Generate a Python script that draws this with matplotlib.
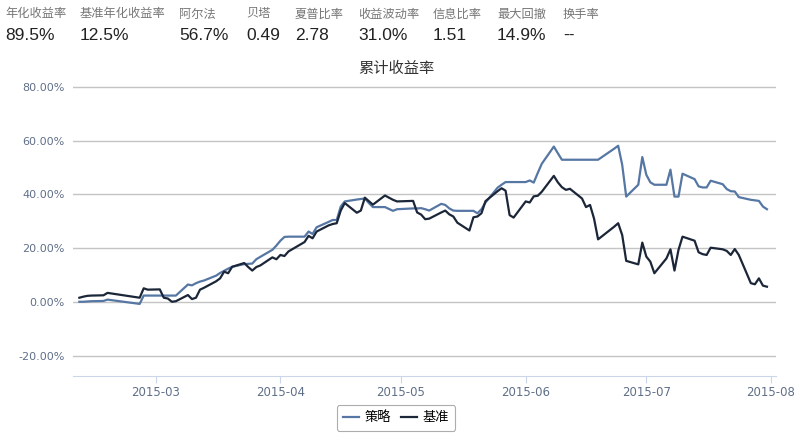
import numpy as np
import pandas as pd
import matplotlib
matplotlib.use("Agg")
import matplotlib.pyplot as plt
import matplotlib.dates as mdates

plt.rcParams['font.family'] = ['Noto Sans CJK SC', 'DejaVu Sans']

# header stats
stat_labels = ["年化收益率", "基准年化收益率", "阿尔法", "贝塔", "夏普比率",
               "收益波动率", "信息比率", "最大回撤", "换手率"]
stat_values = ["89.5%", "12.5%", "56.7%", "0.49", "2.78", "31.0%", "1.51", "14.9%", "--"]
stat_x = [5, 80, 179, 246, 295, 358, 433, 497, 563]

# trading days and cumulative returns (%)
dates = [
    "2015-02-10", "2015-02-11", "2015-02-12", "2015-02-13", "2015-02-16", "2015-02-17",
    "2015-02-25", "2015-02-26", "2015-02-27",
    "2015-03-02", "2015-03-03", "2015-03-04", "2015-03-05", "2015-03-06",
    "2015-03-09", "2015-03-10", "2015-03-11", "2015-03-12", "2015-03-13",
    "2015-03-16", "2015-03-17", "2015-03-18", "2015-03-19", "2015-03-20",
    "2015-03-23", "2015-03-24", "2015-03-25", "2015-03-26", "2015-03-27",
    "2015-03-30", "2015-03-31",
    "2015-04-01", "2015-04-02", "2015-04-03",
    "2015-04-07", "2015-04-08", "2015-04-09", "2015-04-10",
    "2015-04-13", "2015-04-14", "2015-04-15", "2015-04-16", "2015-04-17",
    "2015-04-20", "2015-04-21", "2015-04-22", "2015-04-23", "2015-04-24",
    "2015-04-27", "2015-04-28", "2015-04-29", "2015-04-30",
    "2015-05-04", "2015-05-05", "2015-05-06", "2015-05-07", "2015-05-08",
    "2015-05-11", "2015-05-12", "2015-05-13", "2015-05-14", "2015-05-15",
    "2015-05-18", "2015-05-19", "2015-05-20", "2015-05-21", "2015-05-22",
    "2015-05-25", "2015-05-26", "2015-05-27", "2015-05-28", "2015-05-29",
    "2015-06-01", "2015-06-02", "2015-06-03", "2015-06-04", "2015-06-05",
    "2015-06-08", "2015-06-09", "2015-06-10", "2015-06-11", "2015-06-12",
    "2015-06-15", "2015-06-16", "2015-06-17", "2015-06-18", "2015-06-19",
    "2015-06-23", "2015-06-24", "2015-06-25", "2015-06-26",
    "2015-06-29", "2015-06-30",
    "2015-07-01", "2015-07-02", "2015-07-03",
    "2015-07-06", "2015-07-07", "2015-07-08", "2015-07-09", "2015-07-10",
    "2015-07-13", "2015-07-14", "2015-07-15", "2015-07-16", "2015-07-17",
    "2015-07-20", "2015-07-21", "2015-07-22", "2015-07-23", "2015-07-24",
    "2015-07-27", "2015-07-28", "2015-07-29", "2015-07-30", "2015-07-31",
]

strategy = [
    0.1, 0.1, 0.2, 0.3, 0.4, 0.9, -0.7, 2.4, 2.4,
    2.4, 2.4, 2.4, 2.4, 2.4,
    6.5, 6.2, 7.0, 7.6, 8.0,
    9.8, 10.8, 11.6, 12.4, 13.1,
    14.1, 14.2, 14.3, 15.9, 16.8,
    19.4, 21.0,
    22.8, 24.2, 24.3,
    24.3, 26.2, 25.3, 27.8,
    29.8, 30.5, 30.5, 35.5, 37.4,
    38.1, 38.3, 38.5, 36.8, 35.3,
    35.3, 34.6, 33.9, 34.5,
    34.8, 34.8, 34.9, 34.5, 34.0,
    36.5, 36.1, 34.8, 34.0, 33.9,
    33.9, 33.9, 33.0, 34.5, 37.0,
    42.5, 43.6, 44.6, 44.6, 44.6,
    44.6, 45.2, 44.4, 48.0, 51.4,
    57.8, 55.3, 52.9, 52.9, 52.9,
    52.9, 52.9, 52.9, 52.9, 52.9,
    57.0, 58.1, 51.0, 39.2,
    43.6, 53.9,
    47.3, 44.5, 43.6,
    43.6, 49.2, 39.2, 39.2, 47.7,
    45.7, 43.0, 42.6, 42.6, 45.1,
    43.8, 42.0, 41.2, 41.1, 39.0,
    38.0, 37.8, 37.6, 35.5, 34.5,
]

benchmark = [
    1.6, 2.0, 2.3, 2.4, 2.5, 3.4, 1.6, 5.1, 4.6,
    4.7, 1.6, 1.3, 0.1, 0.3,
    2.6, 1.1, 1.6, 4.6, 5.3,
    7.7, 8.8, 11.3, 10.7, 13.1,
    14.5, 13.0, 11.7, 13.0, 13.6,
    16.6, 15.9,
    17.5, 17.1, 18.8,
    22.3, 24.6, 23.7, 26.2,
    28.5, 29.0, 29.3, 34.0, 36.8,
    33.2, 34.0, 38.8, 37.5, 36.2,
    39.6, 38.8, 38.0, 37.4,
    37.6, 33.3, 32.5, 30.8, 31.0,
    33.3, 34.0, 32.6, 31.8, 29.5,
    26.6, 31.5, 31.8, 33.0, 37.5,
    41.2, 42.3, 41.4, 32.3, 31.4,
    37.4, 37.0, 39.3, 39.5, 41.0,
    46.9, 44.5, 42.7, 41.7, 42.1,
    38.5, 35.3, 36.1, 31.0, 23.3,
    28.0, 29.3, 24.9, 15.3,
    14.0, 22.1,
    16.9, 15.0, 10.7,
    16.2, 19.6, 11.7, 19.4, 24.3,
    22.8, 18.5, 17.8, 17.5, 20.2,
    19.6, 19.0, 17.5, 19.7, 17.5,
    7.0, 6.6, 8.8, 6.1, 5.7,
]

x = pd.to_datetime(dates)
W, H = 794, 442
fig = plt.figure(figsize=(W / 100, H / 100), dpi=100)
ax = fig.add_axes([73 / W, 1 - 376 / H, (776 - 73) / W, (376 - 82) / H])

tick_color = "#606f88"
ax.plot(x, strategy, color="#5676a3", lw=1.6, label="策略", zorder=3)
ax.plot(x, benchmark, color="#1b2638", lw=1.6, label="基准", zorder=4)

ax.set_ylim(-27.5, 81.8)
ax.set_xlim(pd.Timestamp("2015-02-08 10:00"), pd.Timestamp("2015-08-02 06:00"))
ax.set_yticks([-20, 0, 20, 40, 60, 80])
ax.set_yticklabels([f"{v:.2f}%" for v in [-20, 0, 20, 40, 60, 80]])
ax.grid(axis="y", color="#c4c4c4", lw=1)
ax.set_axisbelow(True)

ax.xaxis.set_major_locator(mdates.MonthLocator())
ax.xaxis.set_major_formatter(mdates.DateFormatter("%Y-%m"))

for s in ["top", "right", "left"]:
    ax.spines[s].set_visible(False)
ax.spines["bottom"].set_color("#ccd6eb")
ax.spines["bottom"].set_linestyle((0, (1, 1)))
ax.tick_params(axis="y", length=0, pad=6, labelsize=8, labelcolor=tick_color)
ax.tick_params(axis="x", length=5, color="#ccd6eb", pad=2, labelsize=8.5, labelcolor=tick_color)
for lab in ax.get_xticklabels() + ax.get_yticklabels():
    lab.set_family("DejaVu Sans")

fig.text(396 / W, 1 - 68 / H, "累计收益率", ha="center", va="center", fontsize=11, color="#333333")

for lx, lab, val in zip(stat_x, stat_labels, stat_values):
    fig.text(lx / W, 1 - 14 / H, lab, ha="left", va="center", fontsize=8.8, color="#777777")
    fig.text(lx / W, 1 - 35 / H, val, ha="left", va="center", fontsize=12.5, color="#222222",
             family=["Liberation Sans", "DejaVu Sans"])

leg = fig.legend(loc="center", bbox_to_anchor=(396 / W, 1 - 418 / H), ncol=2, frameon=True,
                 fontsize=9.5, handlelength=1.2, columnspacing=0.8, handletextpad=0.4,
                 borderpad=0.5, fancybox=True)
leg.get_frame().set_edgecolor("#999999")
leg.get_frame().set_linewidth(0.8)

fig.savefig("out.png", dpi=100)
